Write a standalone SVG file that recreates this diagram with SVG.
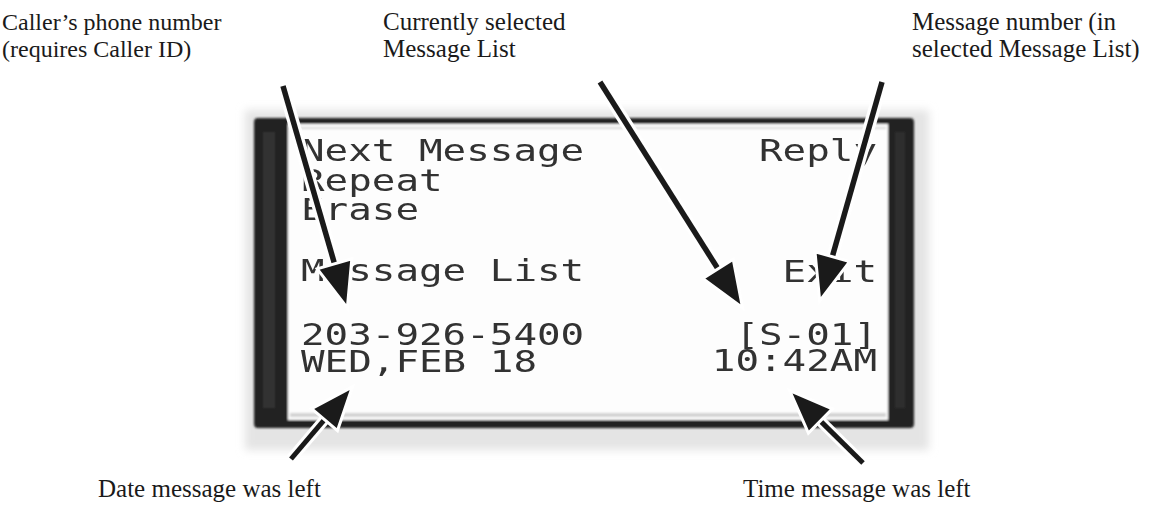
<svg xmlns="http://www.w3.org/2000/svg" width="1159" height="506" viewBox="0 0 1159 506">
<style>
.lbl{font-family:"Liberation Serif","Times New Roman",serif;font-size:25px;fill:#1a1a1a}
.lbl.l{font-size:24px}
.lcd{font-family:"DejaVu Sans Mono","Liberation Mono",monospace;font-size:30px;fill:#333}
.halo{stroke:#fff;stroke-width:12;fill:none;stroke-linecap:butt}
.line{stroke:#1a1a1a;stroke-width:5.5;fill:none;stroke-linecap:butt;marker-end:url(#head)}
.halo.sm{stroke-width:11}
.line.sm{stroke-width:5;marker-end:url(#headsm)}
</style>
<defs>
<filter id="blur" x="-5%" y="-5%" width="110%" height="110%"><feGaussianBlur stdDeviation="1.1"/></filter>
<filter id="blur4" x="-10%" y="-10%" width="120%" height="120%"><feGaussianBlur stdDeviation="4"/></filter>
<filter id="soft" x="-5%" y="-5%" width="110%" height="110%"><feGaussianBlur stdDeviation="0.6"/></filter>
<marker id="head" markerUnits="userSpaceOnUse" markerWidth="80" markerHeight="80" refX="0" refY="0" viewBox="-40 -40 80 80" orient="auto" overflow="visible">
<path d="M31,0 L-15,-18 L-15,18 Z" fill="#1a1a1a" stroke="#fff" stroke-width="3" stroke-linejoin="miter"/>
</marker>
<marker id="headsm" markerUnits="userSpaceOnUse" markerWidth="80" markerHeight="80" refX="0" refY="0" viewBox="-40 -40 80 80" orient="auto" overflow="visible">
<path d="M29,0 L-14,-17 L-14,17 Z" fill="#1a1a1a" stroke="#fff" stroke-width="3" stroke-linejoin="miter"/>
</marker>
</defs>
<rect width="1159" height="506" fill="#fff"/>

<g id="lcd-frame">
<rect x="245" y="110" width="684" height="340" fill="#e4e4e4" filter="url(#blur4)"/>
<g filter="url(#blur)">
<rect x="254" y="118" width="660" height="310" rx="4" fill="#242424"/>
<rect x="288" y="124" width="600" height="296" fill="#fdfdfd"/>
<rect x="263" y="132" width="12" height="276" fill="#3c3c3c" opacity="0.6"/>
<rect x="895" y="132" width="10" height="276" fill="#3a3a3a" opacity="0.5"/>
<line x1="290" y1="128" x2="886" y2="128" stroke="#c0c0c0" stroke-width="2" opacity="0.6"/>
<line x1="290" y1="415" x2="886" y2="415" stroke="#a0a0a0" stroke-width="4" opacity="0.45"/>
</g>
</g>

<g id="lcd-text" filter="url(#soft)">
<text class="lcd" x="301" y="161" textLength="283.2" lengthAdjust="spacingAndGlyphs">Next Message</text>
<text class="lcd" x="759" y="161" textLength="118" lengthAdjust="spacingAndGlyphs">Reply</text>
<text class="lcd" x="301" y="191" textLength="141.6" lengthAdjust="spacingAndGlyphs">Repeat</text>
<text class="lcd" x="301" y="220" textLength="118" lengthAdjust="spacingAndGlyphs">Erase</text>
<text class="lcd" x="301" y="281" textLength="283.2" lengthAdjust="spacingAndGlyphs">Message List</text>
<text class="lcd" x="782.6" y="282" textLength="94.4" lengthAdjust="spacingAndGlyphs">Exit</text>
<text class="lcd" x="301" y="345" textLength="283.2" lengthAdjust="spacingAndGlyphs">203-926-5400</text>
<text class="lcd" x="735.4" y="345" textLength="141.6" lengthAdjust="spacingAndGlyphs">[S-01]</text>
<text class="lcd" x="301" y="372" textLength="236" lengthAdjust="spacingAndGlyphs">WED,FEB 18</text>
<text class="lcd" x="711.8" y="371" textLength="165.2" lengthAdjust="spacingAndGlyphs">10:42AM</text>
</g>

<g id="connectors">
<g id="c-phone">
<line class="halo" x1="283" y1="86" x2="338.7" y2="278.2"/>
<line class="line" x1="283" y1="86" x2="338.7" y2="278.2"/>
</g>
<g id="c-list">
<line class="halo" x1="600" y1="82" x2="726" y2="281.6"/>
<line class="line" x1="600" y1="82" x2="726" y2="281.6"/>
</g>
<g id="c-number">
<line class="halo" x1="882" y1="82" x2="828.2" y2="271.1"/>
<line class="line" x1="882" y1="82" x2="828.2" y2="271.1"/>
</g>
<g id="c-date">
<line class="halo sm" x1="291" y1="459" x2="333.6" y2="408.9"/>
<line class="line sm" x1="291" y1="459" x2="333.6" y2="408.9"/>
</g>
<g id="c-time">
<line class="halo sm" x1="863" y1="463" x2="810.4" y2="411.1"/>
<line class="line sm" x1="863" y1="463" x2="810.4" y2="411.1"/>
</g>
</g>

<g id="label-phone">
<text class="lbl l" x="2" y="30">Caller’s phone number</text>
<text class="lbl l" x="2" y="57">(requires Caller ID)</text>
</g>
<g id="label-list">
<text class="lbl" x="383" y="30">Currently selected</text>
<text class="lbl" x="383" y="57">Message List</text>
</g>
<g id="label-number">
<text class="lbl" x="912" y="30">Message number (in</text>
<text class="lbl" x="912" y="57">selected Message List)</text>
</g>
<g id="label-date">
<text class="lbl" x="98" y="497">Date message was left</text>
</g>
<g id="label-time">
<text class="lbl" x="743" y="497">Time message was left</text>
</g>
</svg>
